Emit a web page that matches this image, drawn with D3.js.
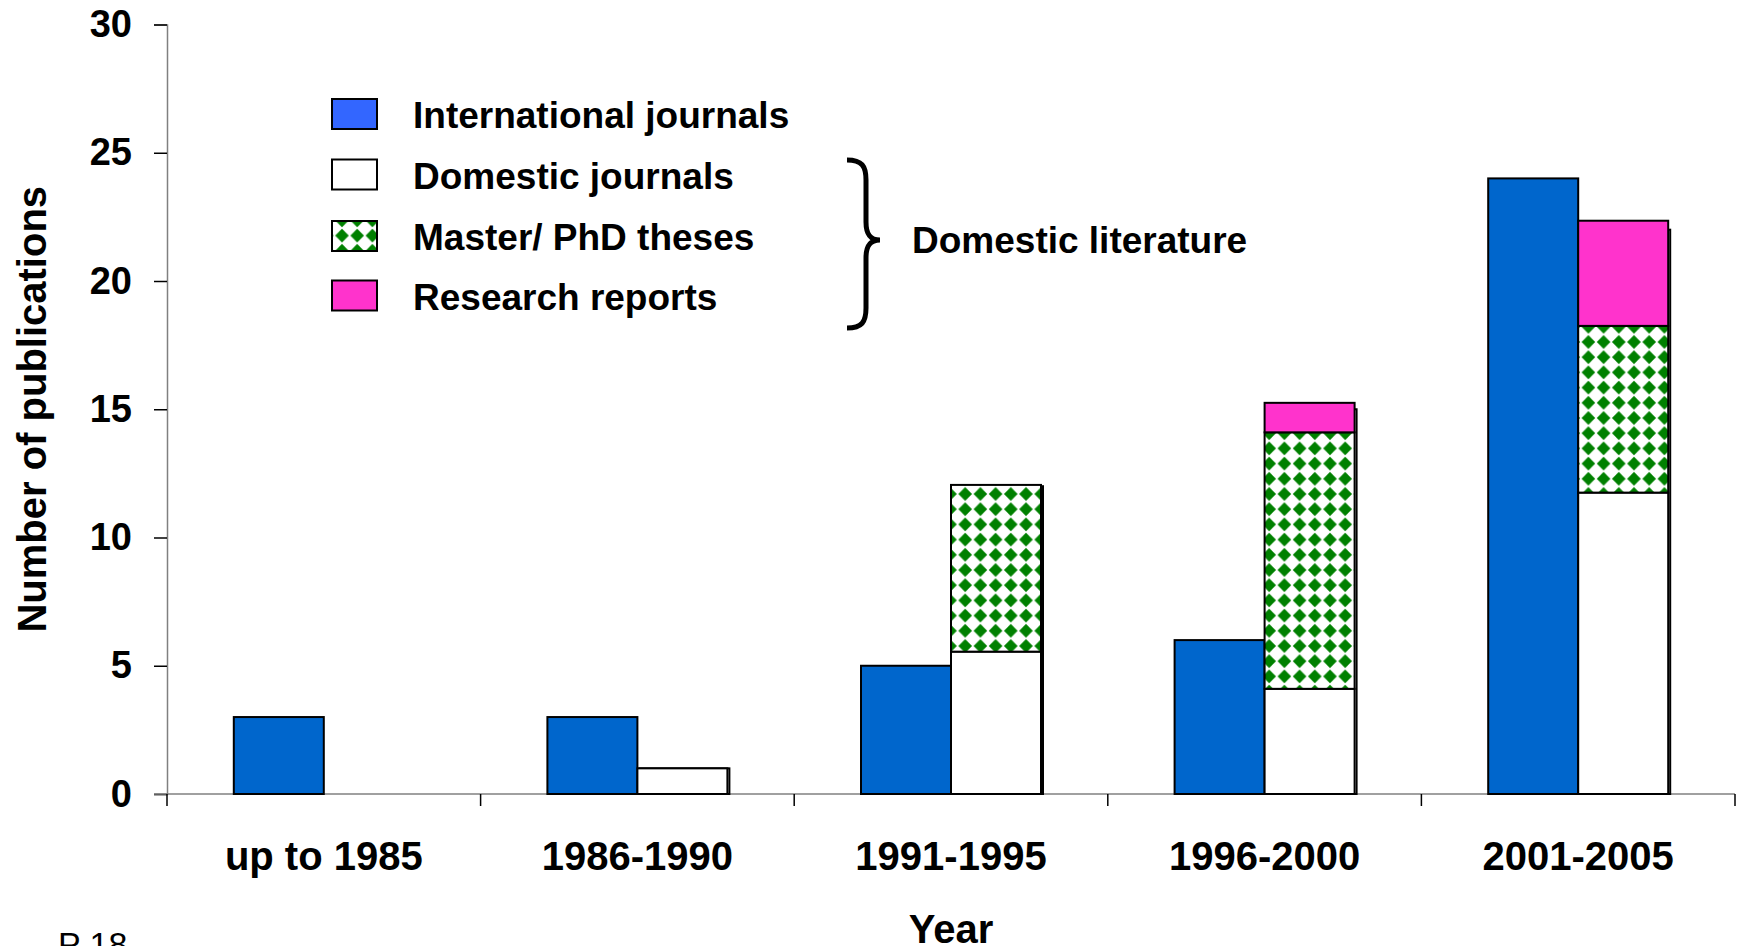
<!DOCTYPE html>
<html>
<head>
<meta charset="utf-8">
<script src="https://cdn.jsdelivr.net/npm/d3@7"></script>
<style>
  body { margin: 0; background: #fff; }
  svg { display: block; font-family: "Liberation Sans", Arial, sans-serif; }
</style>
</head>
<body>
<svg id="chart" width="1744" height="946"></svg>
<script>
// data
var categories = ["up to 1985", "1986-1990", "1991-1995", "1996-2000", "2001-2005"];
var international = [3, 3, 5, 6, 24];
var domesticJournals = [0, 1, 5.55, 4.1, 11.75];
var theses = [0, 0, 6.5, 10, 6.5];
var reports = [0, 0, 0, 1.15, 4.1];
var domesticTotal = [0, 1, 12, 15, 22];
var yTicks = [0, 5, 10, 15, 20, 25, 30];
var legendLabels = ["International journals", "Domestic journals", "Master/ PhD theses", "Research reports"];

var blue = "#0066CC", legendBlue = "#3366FF", pink = "#FF33CC", green = "#008000";

var svg = d3.select("#chart");
var plotLeft = 167, plotRight = 1735, plotTop = 24.5, plotBottom = 794;
var barW = 90;

var x = d3.scaleBand().domain(categories).range([plotLeft, plotRight]);
var y = d3.scaleLinear().domain([0, 30]).range([plotBottom, plotTop]);

// checker-diamond pattern for theses
var defs = svg.append("defs");
var pat = defs.append("pattern")
  .attr("id", "diam")
  .attr("patternUnits", "userSpaceOnUse")
  .attr("width", 15.2).attr("height", 15.2);
pat.append("rect").attr("width", 15.2).attr("height", 15.2).attr("fill", "#fff");
pat.append("path")
  .attr("d", "M7.6,0.8 L14.4,7.6 L7.6,14.4 L0.8,7.6 Z")
  .attr("fill", green);

// y axis
var yAxis = svg.append("g")
  .attr("transform", "translate(" + plotLeft + ",0)")
  .call(d3.axisLeft(y).tickValues(yTicks).tickSize(13).tickPadding(22).tickFormat(d3.format("d")));
yAxis.select(".domain").attr("stroke", "#808080").attr("stroke-width", 1.5);
yAxis.selectAll(".tick line").attr("stroke", "#000").attr("stroke-width", 1.5);
yAxis.selectAll(".tick text")
  .attr("font-size", 38).attr("font-weight", "bold").attr("fill", "#000")
  .attr("font-family", "Liberation Sans, Arial, sans-serif");

// x axis line + boundary ticks
var bounds = categories.map(function(c) { return x(c); }).concat([plotRight]);
svg.append("line")
  .attr("x1", plotLeft - 13).attr("x2", plotRight)
  .attr("y1", plotBottom).attr("y2", plotBottom)
  .attr("stroke", "#808080").attr("stroke-width", 1.5);
svg.selectAll(".xtick").data(bounds).enter().append("line")
  .attr("class", "xtick")
  .attr("x1", function(d) { return d; }).attr("x2", function(d) { return d; })
  .attr("y1", plotBottom).attr("y2", plotBottom + 12)
  .attr("stroke", "#000").attr("stroke-width", 1.5);

svg.selectAll(".xlab").data(categories).enter().append("text")
  .attr("class", "xlab")
  .attr("x", function(d) { return x(d) + x.bandwidth() / 2; })
  .attr("y", 870)
  .attr("text-anchor", "middle")
  .attr("font-size", 40).attr("font-weight", "bold")
  .text(function(d) { return d; });

// international bars
svg.selectAll(".intl").data(categories).enter().append("rect")
  .attr("class", "intl")
  .attr("x", function(d) { return x(d) + x.bandwidth() / 2 - barW; })
  .attr("y", function(d, i) { return y(international[i]); })
  .attr("width", barW)
  .attr("height", function(d, i) { return y(0) - y(international[i]); })
  .attr("fill", blue).attr("stroke", "#000").attr("stroke-width", 2);

// domestic: outline of total behind, then stacked segments
var idx = d3.range(categories.length).filter(function(i) { return domesticTotal[i] > 0; });
svg.selectAll(".dtot").data(idx).enter().append("rect")
  .attr("class", "dtot")
  .attr("x", function(i) { return x(categories[i]) + x.bandwidth() / 2 + 2; })
  .attr("y", function(i) { return y(domesticTotal[i]); })
  .attr("width", barW)
  .attr("height", function(i) { return y(0) - y(domesticTotal[i]); })
  .attr("fill", "#fff").attr("stroke", "#000").attr("stroke-width", 2);

var stackKeys = [
  {vals: domesticJournals, fill: "#fff"},
  {vals: theses, fill: "url(#diam)"},
  {vals: reports, fill: pink}
];
stackKeys.forEach(function(k, ki) {
  svg.selectAll(".seg" + ki).data(idx.filter(function(i) { return k.vals[i] > 0; })).enter().append("rect")
    .attr("class", "seg" + ki)
    .attr("x", function(i) { return x(categories[i]) + x.bandwidth() / 2; })
    .attr("y", function(i) {
      var base = 0;
      for (var j = 0; j < ki; j++) base += stackKeys[j].vals[i];
      return y(base + k.vals[i]);
    })
    .attr("width", barW)
    .attr("height", function(i) { return y(0) - y(k.vals[i]); })
    .attr("fill", k.fill).attr("stroke", "#000").attr("stroke-width", 2);
});

// legend
var legFills = [legendBlue, "#fff", "url(#diam)", pink];
var legY = [114, 174.5, 236, 295.5];
var leg = svg.append("g");
leg.selectAll("rect").data(legendLabels).enter().append("rect")
  .attr("x", 332).attr("y", function(d, i) { return legY[i] - 15; })
  .attr("width", 45).attr("height", 30)
  .attr("fill", function(d, i) { return legFills[i]; })
  .attr("stroke", "#000").attr("stroke-width", 2);
leg.selectAll("text").data(legendLabels).enter().append("text")
  .attr("x", 413).attr("y", function(d, i) { return legY[i] + 14; })
  .attr("font-size", 37).attr("font-weight", "bold")
  .text(function(d) { return d; });

// brace + domestic literature
svg.append("path")
  .attr("d", "M847,160 C862,160 866,166 866,180 L866,222 C866,234 870,240 880,240 C870,240 866,246 866,258 L866,308 C866,322 862,328 847,328")
  .attr("fill", "none").attr("stroke", "#000").attr("stroke-width", 5);
svg.append("text")
  .attr("x", 912).attr("y", 253)
  .attr("font-size", 37).attr("font-weight", "bold")
  .text("Domestic literature");

// axis titles
svg.append("text")
  .attr("x", (plotLeft + plotRight) / 2).attr("y", 943)
  .attr("text-anchor", "middle")
  .attr("font-size", 40).attr("font-weight", "bold")
  .text("Year");
svg.append("text")
  .attr("transform", "translate(46," + ((plotTop + plotBottom) / 2) + ") rotate(-90)")
  .attr("text-anchor", "middle")
  .attr("font-size", 40).attr("font-weight", "bold")
  .text("Number of publications");

// page mark at bottom-left
svg.append("text")
  .attr("x", 58).attr("y", 956)
  .attr("font-size", 34)
  .text("P 18");
</script>
</body>
</html>
